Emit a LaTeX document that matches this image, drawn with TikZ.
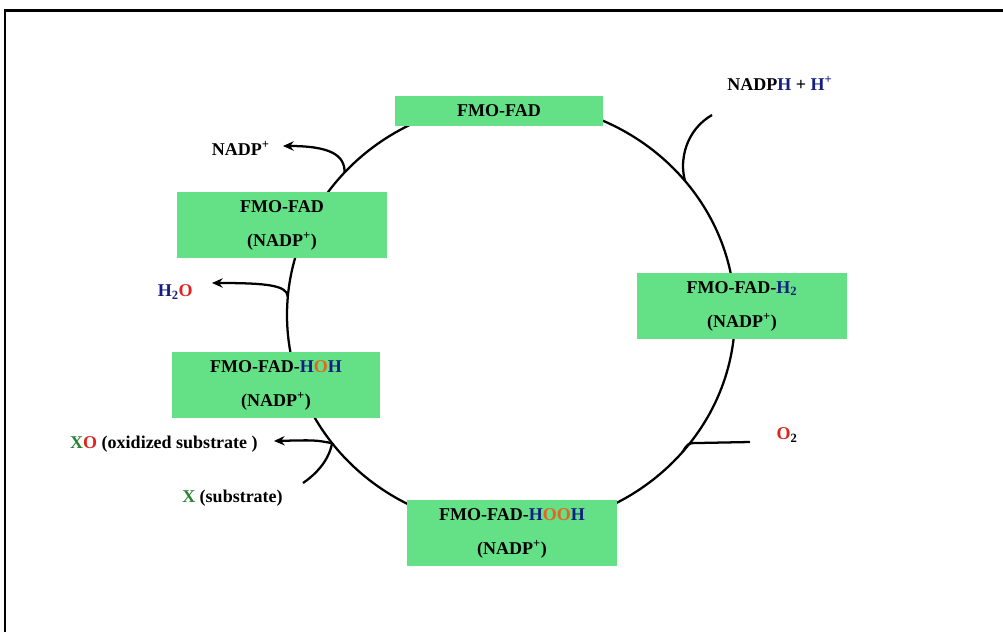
\documentclass[tikz,border=0pt]{standalone}
\usepackage{fontspec}
\setmainfont{Liberation Serif}
\usetikzlibrary{arrows.meta,calc}
\definecolor{boxgreen}{RGB}{100,224,134}
\definecolor{hblue}{RGB}{20,30,130}
\definecolor{ored}{RGB}{225,35,30}
\definecolor{oorange}{RGB}{232,100,30}
\definecolor{xgreen}{RGB}{40,130,50}
\newcommand{\Hb}{\textcolor{hblue}{H}}
\newcommand{\Oo}{\textcolor{oorange}{O}}
\begin{document}
\begin{tikzpicture}[x=0.75pt,y=-0.75pt,
  stagebox/.style={fill=boxgreen, draw=none, minimum width=157.5pt, align=center,
    font=\fontsize{13.5}{25.5}\selectfont\bfseries, inner sep=0pt},
  cyc/.style={line width=1.7pt},
  side/.style={line width=1.7pt},
  outarrow/.style={side,-{Stealth[length=8pt,width=7pt]}},
  lab/.style={font=\fontsize{13.5}{16}\selectfont\bfseries, inner sep=0pt}]
\useasboundingbox (0,0) rectangle (1003,632);
\draw[line width=1.6pt] (5,632) -- (5,10.5) -- (1003,10.5);
% cycle
\coordinate (c) at (511,315);
\draw[cyc] (c) ellipse [x radius=168pt, y radius=159.75pt];
% junctions on the cycle
\coordinate (jN) at ([shift={(39:168pt and 159.75pt)}]c);
\coordinate (jA) at ([shift={(138:168pt and 159.75pt)}]c);
\coordinate (jH) at ([shift={(175:168pt and 159.75pt)}]c);
\coordinate (jX) at ([shift={(217:168pt and 159.75pt)}]c);
\coordinate (jO) at ([shift={(320:168pt and 159.75pt)}]c);
% stage boxes
\node[stagebox, minimum height=22.5pt, minimum width=156pt] (s1) at (499,111) {FMO-FAD};
\node[stagebox, minimum height=49.5pt] (s2) at (742,306) {FMO-FAD-\Hb\textsubscript{\color{hblue}2}\\(NADP\textsuperscript{+})};
\node[stagebox, minimum height=50pt, minimum width=158pt] (s3) at (512,533) {FMO-FAD-\Hb\Oo\Oo\Hb\\(NADP\textsuperscript{+})};
\node[stagebox, minimum height=49.5pt, minimum width=156pt] (s4) at (276,385) {FMO-FAD-\Hb\Oo\Hb\\(NADP\textsuperscript{+})};
\node[stagebox, minimum height=49.5pt] (s5) at (282,225) {FMO-FAD\\(NADP\textsuperscript{+})};
% labels
\node[lab] (lNADPH) at (780,83) {NADP\Hb{} + \Hb\textsuperscript{\color{hblue}+}};
\node[lab, anchor=east] (lNADP) at (270,148) {NADP\textsuperscript{+}};
\node[lab, anchor=east] (lH2O) at (193,292) {\textcolor{hblue}{H\textsubscript{2}}\textcolor{ored}{O}};
\node[lab, anchor=east] (lXO) at (258,444) {\textcolor{xgreen}{X}\textcolor{ored}{O} (oxidized substrate )};
\node[lab, anchor=east] (lX) at (283,498) {\textcolor{xgreen}{X} (substrate)};
\node[lab] (lO2) at (787,435) {\textcolor{ored}{O}\textsubscript{2}};
% free ends
\coordinate (eN) at (712,115);
\coordinate (eA) at (283,146);
\coordinate (eH) at (212,283);
\coordinate (eXO) at (274,441);
\coordinate (eX) at (303,483);
\coordinate (eO) at (750,442);
% side branches
\draw[side] (eN) .. controls (686,130) and (679,160) .. (jN);
\draw[outarrow] (jA) .. controls (345,155) and (330,146) .. (eA);
\draw[outarrow] (jH) .. controls (287,285) and (265,283) .. (eH);
\draw[outarrow] (jX) .. controls (315,440) .. (eXO);
\draw[side] (eX) .. controls (322,470) and (330,455) .. (jX);
\draw[side] (eO) -- (698,443) .. controls (688,443) .. (jO);
\end{tikzpicture}
\end{document}
